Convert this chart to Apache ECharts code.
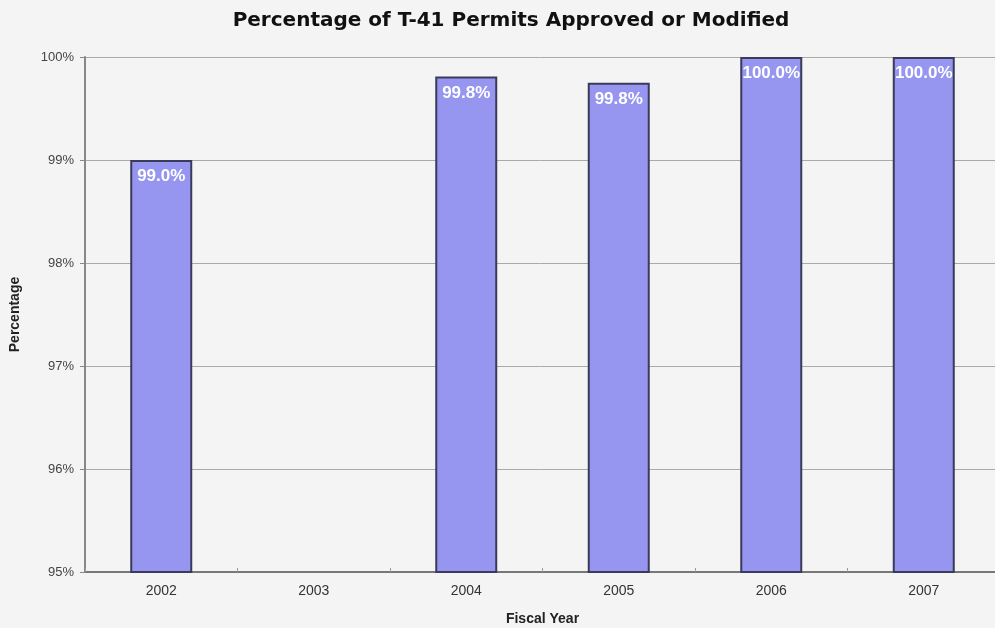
<!DOCTYPE html>
<html><head><meta charset="utf-8">
<script src="https://cdn.jsdelivr.net/npm/echarts@6/dist/echarts.min.js"></script>
<style>html,body{margin:0;padding:0;background:#f4f4f4}#c{width:995px;height:628px}</style>
</head><body><div id="c"></div>
<script>
const categories = ['2002','2003','2004','2005','2006','2007'];
const values = [99.0, null, 99.81, 99.75, 100.0, 100.0];
const yTicks = [95, 96, 97, 98, 99, 100];

const chart = echarts.init(document.getElementById('c'));
chart.setOption({
  backgroundColor: '#f4f4f4',
  animation: false,
  title: {
    text: 'Percentage of T-41 Permits Approved or Modified',
    left: 506, top: 6, textAlign: 'center',
    textStyle: {fontFamily: 'DejaVu Sans', fontWeight: 'bold', fontSize: 20, color: '#111'}
  },
  grid: {left: 85, right: -5, top: 57, bottom: 56, outerBoundsMode: 'none', containLabel: false},
  xAxis: {
    type: 'category', data: categories,
    name: 'Fiscal Year', nameLocation: 'middle', nameGap: 40,
    nameTextStyle: {fontFamily: 'Liberation Sans', fontWeight: 'bold', fontSize: 14, color: '#222'},
    axisLine: {lineStyle: {color: '#777', width: 2}},
    axisTick: {show: true, alignWithLabel: false, inside: true, length: 4, lineStyle: {color: '#999'}},
    axisLabel: {fontFamily: 'Liberation Sans', fontSize: 14, color: '#333', margin: 12}
  },
  yAxis: {
    type: 'value', min: yTicks[0], max: yTicks[yTicks.length-1], interval: 1,
    name: 'Percentage', nameLocation: 'middle', nameGap: 63,
    nameTextStyle: {fontFamily: 'Liberation Sans', fontWeight: 'bold', fontSize: 14, color: '#222'},
    axisLine: {show: true, lineStyle: {color: '#888', width: 2}},
    axisTick: {show: true, length: 5, lineStyle: {color: '#888'}},
    axisLabel: {fontFamily: 'Liberation Sans', fontSize: 13, color: '#444', margin: 11,
      formatter: v => v + '%'},
    splitLine: {lineStyle: {color: '#aaa', width: 1}}
  },
  series: [{
    type: 'bar', data: values, barWidth: 62,
    itemStyle: {color: '#9696f0', borderColor: '#3a3a5a', borderWidth: 2},
    label: {show: true, position: 'insideTop', distance: 8,
      fontFamily: 'Liberation Sans', fontWeight: 'bold', fontSize: 17, color: '#fff',
      formatter: p => p.value == null ? '' : p.value.toFixed(1) + '%'}
  }]
});
</script></body></html>
